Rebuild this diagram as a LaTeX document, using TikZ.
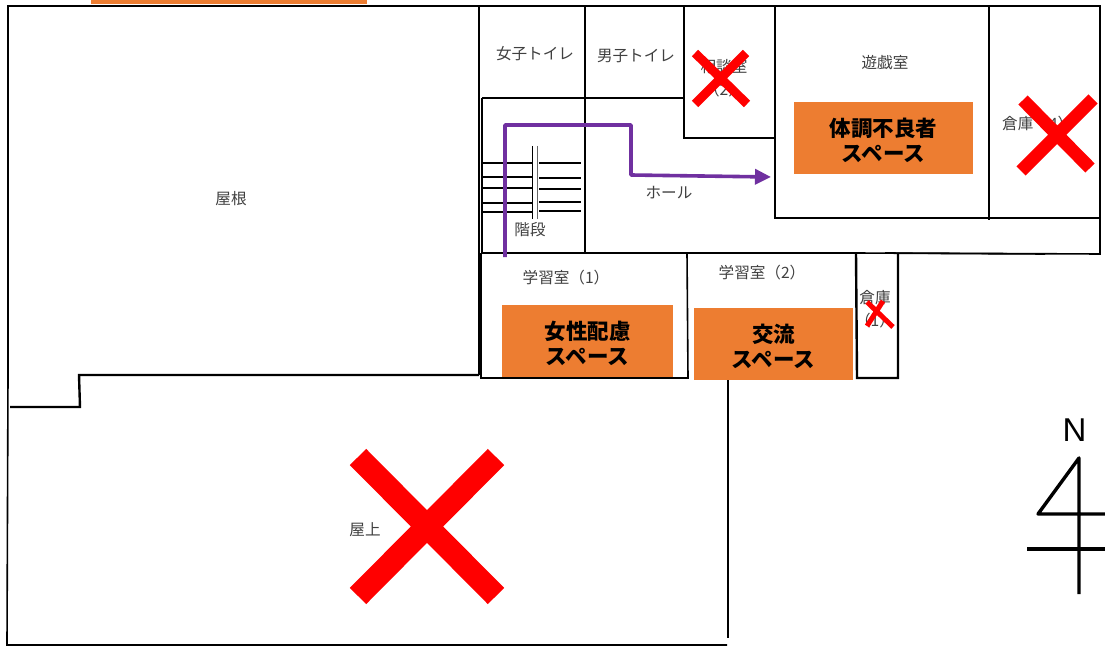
\documentclass[tikz,border=0pt]{standalone}
\usepackage{fontspec}
\newfontfamily\cjk{Noto Sans CJK JP}
\newfontfamily\latinsans{Liberation Sans}
\usetikzlibrary{arrows.meta, positioning}
\definecolor{spaceorange}{HTML}{ED7D31}
\definecolor{routepurple}{HTML}{7030A0}
\tikzstyle{wall}=[draw=black, line width=1.6pt]
\tikzstyle{thickwall}=[draw=black, line width=2.4pt]
\tikzstyle{room}=[text=black!75, font=\cjk\fontsize{15.6}{23}\selectfont, align=center, inner sep=0pt]
\tikzstyle{spacebox}=[fill=spaceorange, inner sep=0pt]
\tikzstyle{spacetext}=[text=black, font=\cjk\bfseries\fontsize{21.5}{25}\selectfont, align=center, inner sep=0pt]
\tikzstyle{closed}=[draw=red]
\begin{document}
\begin{tikzpicture}[x=1pt, y=-1pt, >={Triangle[length=16pt, width=15pt]}]
\useasboundingbox (0,0) rectangle (1105,647);
\fill[white] (0,0) rectangle (1105,647);
%upper floor outline
\draw[wall] (8,375) -- (8,6) -- (1100,6) -- (1100,254) -- (885,253);
\draw[wall] (479,6) -- (479,375);
\draw[wall] (482,98) -- (683,98);
\draw[wall] (585,6) -- (585,253);
\draw[wall] (684,6) -- (684,138) -- (775,138);
\draw[wall] (775,6) -- (775,218) -- (1100,218);
\draw[thickwall] (989,6) -- (989,220);
\draw[thickwall] (482,98) -- (482,163);
\draw[wall] (482,163) -- (482,253) -- (856,253);
\draw[wall] (856,253) -- (1045,254);
%study rooms
\draw[wall] (481,253) -- (481,378) -- (688,378) -- (687,253);
\draw[thickwall] (856,253) -- (857,378) -- (898,378) -- (898,253);
%roof and terrace
\draw[thickwall] (479,375) -- (79,375) -- (80,407) -- (10,407);
\draw[wall] (8,375) -- (7,645) -- (727,645);
\draw[thickwall] (728,378) -- (728,638);
%stairs
\foreach \y/\ya in {163/163, 177/178, 188/189, 203/202, 212/211}{
  \draw[line width=2pt] (482,\y) -- (532,\y);
  \draw[line width=2pt] (539,\ya) -- (581,\ya);
}
\draw[line width=1pt] (532,146) -- (532,219);
\draw[line width=1pt, black!60] (537,146) -- (537,219);
%room names
\node[room] at (231,199) (roof) {屋根};
\node[room] at (365,530) (terrace) {屋上};
\node[room] at (530,230) (stairs) {階段};
\node[room] at (535,54) (wc_f) {女子トイレ};
\node[room] at (636,56) (wc_m) {男子トイレ};
\node[room] at (724,78) (consult) {相談室\\（2）};
\node[room] at (885,63) (playroom) {遊戯室};
\node[room, anchor=west] at (1002,124) (store_four) {倉庫（4）};
\node[room] at (669,193) (hall) {ホール};
\node[room] at (566,278) (study_one) {学習室（1）};
\node[room] at (762,273) (study_two) {学習室（2）};
\node[room] at (875,309) (store_one) {倉庫\\（1）};
%orange spaces
\fill[spaceorange] (91,0) rectangle (367,4);
\node[spacebox, minimum width=179pt, minimum height=72pt] at (883.5,138) (sick) {};
\node[spacetext] at ([yshift=-2pt]sick.center) (sick_text) {体調不良者\\スペース};
\node[spacebox, minimum width=171pt, minimum height=72pt] at (587.5,341) (women) {};
\node[spacetext] at ([yshift=-2pt]women.center) (women_text) {女性配慮\\スペース};
\node[spacebox, minimum width=159pt, minimum height=72pt] at (773.5,344) (exchange) {};
\node[spacetext] at ([yshift=-2pt]exchange.center) (exchange_text) {交流\\スペース};
%closed rooms
\draw[closed, line width=9pt] (695,53) -- (747,104) (746,53) -- (695,104);
\draw[closed, line width=13pt] (1023,100) -- (1090,168) (1093,99) -- (1021,171);
\draw[closed, line width=5pt] (867,302) -- (893,327) (883,301) -- (867,326);
\draw[closed, line width=23pt] (358,457) -- (496,596) (496,457) -- (358,596);
%route
\coordinate (start) at (505,257);
\coordinate (up) at (505,125);
\coordinate (over) at (631,125);
\coordinate (down) at (631,175);
\coordinate (door) at (771,177);
\draw[->, routepurple, line width=3.6pt, line join=round] (start) -- (up) -- (over) -- (down) -- (door);
%north mark
\node[font=\latinsans\fontsize{33}{36}\selectfont, inner sep=0pt] at (1074.5,430) (north) {N};
\draw[line width=3.4pt, line join=round] (1105,514) -- (1038,514) -- (1079,458) -- (1079,594);
\draw[line width=3.4pt] (1027,549) -- (1105,549);
\end{tikzpicture}
\end{document}
